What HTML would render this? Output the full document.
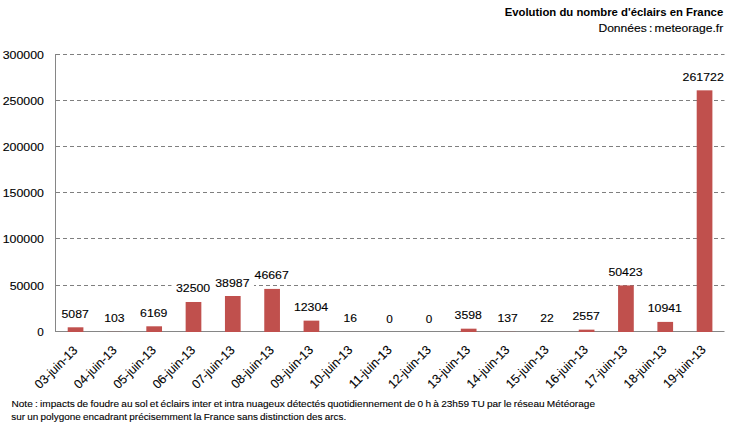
<!DOCTYPE html>
<html><head><meta charset="utf-8"><style>
html,body{margin:0;padding:0;background:#fff;}
body{width:729px;height:434px;overflow:hidden;position:relative;}
svg{position:absolute;left:0;top:0;}
text{font-family:"Liberation Sans",sans-serif;fill:#000;stroke:#000;stroke-width:0.12px;}
.t{font-size:11.5px;}
.c{font-size:12.6px;stroke-width:0.1px;}
.ti{font-size:10.4px;font-weight:bold;stroke-width:0;}
.st{font-size:10.4px;word-spacing:-1px;}
.no{font-size:9.4px;stroke-width:0.1px;word-spacing:-0.5px;}
</style></head><body>
<svg width="729" height="434" viewBox="0 0 729 434">
<text x="723.2" y="15.6" text-anchor="end" class="ti" textLength="218.5" lengthAdjust="spacingAndGlyphs">Evolution du nombre d'éclairs en France</text>
<text x="723.2" y="31.8" text-anchor="end" class="st" textLength="124.8" lengthAdjust="spacingAndGlyphs">Données : meteorage.fr</text>
<line x1="56" y1="285.5" x2="724.5" y2="285.5" stroke="#7f7f7f" stroke-width="1" stroke-dasharray="4,3"/>
<line x1="56" y1="238.5" x2="724.5" y2="238.5" stroke="#7f7f7f" stroke-width="1" stroke-dasharray="4,3"/>
<line x1="56" y1="192.5" x2="724.5" y2="192.5" stroke="#7f7f7f" stroke-width="1" stroke-dasharray="4,3"/>
<line x1="56" y1="146.5" x2="724.5" y2="146.5" stroke="#7f7f7f" stroke-width="1" stroke-dasharray="4,3"/>
<line x1="56" y1="100.5" x2="724.5" y2="100.5" stroke="#7f7f7f" stroke-width="1" stroke-dasharray="4,3"/>
<line x1="56" y1="54.5" x2="724.5" y2="54.5" stroke="#7f7f7f" stroke-width="1" stroke-dasharray="4,3"/>
<line x1="55" y1="331.5" x2="724.5" y2="331.5" stroke="#868686" stroke-width="1"/>
<text x="43.9" y="335.90" text-anchor="end" class="t" textLength="6.53" lengthAdjust="spacingAndGlyphs">0</text>
<text x="43.9" y="289.90" text-anchor="end" class="t" textLength="34.25" lengthAdjust="spacingAndGlyphs">50000</text>
<text x="43.9" y="242.90" text-anchor="end" class="t" textLength="41.18" lengthAdjust="spacingAndGlyphs">100000</text>
<text x="43.9" y="196.90" text-anchor="end" class="t" textLength="41.18" lengthAdjust="spacingAndGlyphs">150000</text>
<text x="43.9" y="150.90" text-anchor="end" class="t" textLength="41.18" lengthAdjust="spacingAndGlyphs">200000</text>
<text x="43.9" y="104.90" text-anchor="end" class="t" textLength="41.18" lengthAdjust="spacingAndGlyphs">250000</text>
<text x="43.9" y="58.90" text-anchor="end" class="t" textLength="41.18" lengthAdjust="spacingAndGlyphs">300000</text>
<rect x="67.70" y="327.30" width="15.7" height="4.70" fill="#C0504D"/>
<rect x="107.01" y="331.90" width="15.7" height="0.10" fill="#C0504D"/>
<rect x="146.32" y="326.30" width="15.7" height="5.70" fill="#C0504D"/>
<rect x="185.64" y="301.99" width="15.7" height="30.01" fill="#C0504D"/>
<rect x="224.95" y="296.00" width="15.7" height="36.00" fill="#C0504D"/>
<rect x="264.26" y="288.91" width="15.7" height="43.09" fill="#C0504D"/>
<rect x="303.57" y="320.64" width="15.7" height="11.36" fill="#C0504D"/>
<rect x="342.89" y="331.99" width="15.7" height="0.01" fill="#C0504D"/>
<rect x="460.82" y="328.68" width="15.7" height="3.32" fill="#C0504D"/>
<rect x="500.14" y="331.87" width="15.7" height="0.13" fill="#C0504D"/>
<rect x="539.45" y="331.98" width="15.7" height="0.02" fill="#C0504D"/>
<rect x="578.76" y="329.64" width="15.7" height="2.36" fill="#C0504D"/>
<rect x="618.08" y="285.44" width="15.7" height="46.56" fill="#C0504D"/>
<rect x="657.39" y="321.90" width="15.7" height="10.10" fill="#C0504D"/>
<rect x="696.70" y="90.34" width="15.7" height="241.66" fill="#C0504D"/>
<rect x="56.99" y="305.30" width="36.32" height="16.5" fill="#fff"/>
<text x="75.15" y="317.80" text-anchor="middle" class="t" textLength="27.32" lengthAdjust="spacingAndGlyphs">5087</text>
<rect x="99.77" y="309.90" width="29.39" height="16.5" fill="#fff"/>
<text x="114.46" y="322.40" text-anchor="middle" class="t" textLength="20.39" lengthAdjust="spacingAndGlyphs">103</text>
<rect x="135.61" y="304.30" width="36.32" height="16.5" fill="#fff"/>
<text x="153.77" y="316.80" text-anchor="middle" class="t" textLength="27.32" lengthAdjust="spacingAndGlyphs">6169</text>
<rect x="171.46" y="279.99" width="43.25" height="16.5" fill="#fff"/>
<text x="193.09" y="292.49" text-anchor="middle" class="t" textLength="34.25" lengthAdjust="spacingAndGlyphs">32500</text>
<rect x="210.77" y="274.00" width="43.25" height="16.5" fill="#fff"/>
<text x="232.40" y="286.50" text-anchor="middle" class="t" textLength="34.25" lengthAdjust="spacingAndGlyphs">38987</text>
<rect x="250.09" y="266.91" width="43.25" height="16.5" fill="#fff"/>
<text x="271.71" y="279.41" text-anchor="middle" class="t" textLength="34.25" lengthAdjust="spacingAndGlyphs">46667</text>
<rect x="289.40" y="298.64" width="43.25" height="16.5" fill="#fff"/>
<text x="311.03" y="311.14" text-anchor="middle" class="t" textLength="34.25" lengthAdjust="spacingAndGlyphs">12304</text>
<rect x="339.11" y="309.99" width="22.46" height="16.5" fill="#fff"/>
<text x="350.34" y="322.49" text-anchor="middle" class="t" textLength="13.46" lengthAdjust="spacingAndGlyphs">16</text>
<rect x="381.89" y="310.00" width="15.53" height="16.5" fill="#fff"/>
<text x="389.65" y="322.50" text-anchor="middle" class="t" textLength="6.53" lengthAdjust="spacingAndGlyphs">0</text>
<rect x="421.20" y="310.00" width="15.53" height="16.5" fill="#fff"/>
<text x="428.96" y="322.50" text-anchor="middle" class="t" textLength="6.53" lengthAdjust="spacingAndGlyphs">0</text>
<rect x="450.12" y="306.68" width="36.32" height="16.5" fill="#fff"/>
<text x="468.28" y="319.18" text-anchor="middle" class="t" textLength="27.32" lengthAdjust="spacingAndGlyphs">3598</text>
<rect x="492.89" y="309.87" width="29.39" height="16.5" fill="#fff"/>
<text x="507.59" y="322.37" text-anchor="middle" class="t" textLength="20.39" lengthAdjust="spacingAndGlyphs">137</text>
<rect x="535.67" y="309.98" width="22.46" height="16.5" fill="#fff"/>
<text x="546.90" y="322.48" text-anchor="middle" class="t" textLength="13.46" lengthAdjust="spacingAndGlyphs">22</text>
<rect x="568.05" y="307.64" width="36.32" height="16.5" fill="#fff"/>
<text x="586.21" y="320.14" text-anchor="middle" class="t" textLength="27.32" lengthAdjust="spacingAndGlyphs">2557</text>
<rect x="603.90" y="263.44" width="43.25" height="16.5" fill="#fff"/>
<text x="625.53" y="275.94" text-anchor="middle" class="t" textLength="34.25" lengthAdjust="spacingAndGlyphs">50423</text>
<rect x="643.21" y="299.90" width="43.25" height="16.5" fill="#fff"/>
<text x="664.84" y="312.40" text-anchor="middle" class="t" textLength="34.25" lengthAdjust="spacingAndGlyphs">10941</text>
<text x="723.8" y="80.84" text-anchor="end" class="t" textLength="41.18" lengthAdjust="spacingAndGlyphs">261722</text>
<line x1="55.5" y1="54" x2="55.5" y2="332" stroke="#868686" stroke-width="1"/>
<text x="78.40" y="351.05" text-anchor="end" class="c" textLength="54.5" lengthAdjust="spacingAndGlyphs" transform="rotate(-45 78.40 351.05)">03-juin-13</text>
<text x="117.67" y="351.00" text-anchor="end" class="c" textLength="54.5" lengthAdjust="spacingAndGlyphs" transform="rotate(-45 117.67 351.00)">04-juin-13</text>
<text x="156.93" y="350.96" text-anchor="end" class="c" textLength="54.5" lengthAdjust="spacingAndGlyphs" transform="rotate(-45 156.93 350.96)">05-juin-13</text>
<text x="196.20" y="350.91" text-anchor="end" class="c" textLength="54.5" lengthAdjust="spacingAndGlyphs" transform="rotate(-45 196.20 350.91)">06-juin-13</text>
<text x="235.47" y="350.87" text-anchor="end" class="c" textLength="54.5" lengthAdjust="spacingAndGlyphs" transform="rotate(-45 235.47 350.87)">07-juin-13</text>
<text x="274.74" y="350.82" text-anchor="end" class="c" textLength="54.5" lengthAdjust="spacingAndGlyphs" transform="rotate(-45 274.74 350.82)">08-juin-13</text>
<text x="314.00" y="350.78" text-anchor="end" class="c" textLength="54.5" lengthAdjust="spacingAndGlyphs" transform="rotate(-45 314.00 350.78)">09-juin-13</text>
<text x="353.27" y="350.74" text-anchor="end" class="c" textLength="54.5" lengthAdjust="spacingAndGlyphs" transform="rotate(-45 353.27 350.74)">10-juin-13</text>
<text x="392.54" y="350.69" text-anchor="end" class="c" textLength="54.5" lengthAdjust="spacingAndGlyphs" transform="rotate(-45 392.54 350.69)">11-juin-13</text>
<text x="431.81" y="350.64" text-anchor="end" class="c" textLength="54.5" lengthAdjust="spacingAndGlyphs" transform="rotate(-45 431.81 350.64)">12-juin-13</text>
<text x="471.07" y="350.60" text-anchor="end" class="c" textLength="54.5" lengthAdjust="spacingAndGlyphs" transform="rotate(-45 471.07 350.60)">13-juin-13</text>
<text x="510.34" y="350.56" text-anchor="end" class="c" textLength="54.5" lengthAdjust="spacingAndGlyphs" transform="rotate(-45 510.34 350.56)">14-juin-13</text>
<text x="549.61" y="350.51" text-anchor="end" class="c" textLength="54.5" lengthAdjust="spacingAndGlyphs" transform="rotate(-45 549.61 350.51)">15-juin-13</text>
<text x="588.88" y="350.46" text-anchor="end" class="c" textLength="54.5" lengthAdjust="spacingAndGlyphs" transform="rotate(-45 588.88 350.46)">16-juin-13</text>
<text x="628.15" y="350.42" text-anchor="end" class="c" textLength="54.5" lengthAdjust="spacingAndGlyphs" transform="rotate(-45 628.15 350.42)">17-juin-13</text>
<text x="667.41" y="350.38" text-anchor="end" class="c" textLength="54.5" lengthAdjust="spacingAndGlyphs" transform="rotate(-45 667.41 350.38)">18-juin-13</text>
<text x="706.68" y="350.33" text-anchor="end" class="c" textLength="54.5" lengthAdjust="spacingAndGlyphs" transform="rotate(-45 706.68 350.33)">19-juin-13</text>
<text x="11.5" y="406.6" class="no" textLength="583.5" lengthAdjust="spacingAndGlyphs">Note : impacts de foudre au sol et éclairs inter et intra nuageux détectés quotidiennement de 0 h à 23h59 TU par le réseau Météorage</text>
<text x="11.2" y="419.7" class="no" textLength="335" lengthAdjust="spacingAndGlyphs">sur un polygone encadrant précisemment la France sans distinction des arcs.</text>
</svg>
</body></html>
